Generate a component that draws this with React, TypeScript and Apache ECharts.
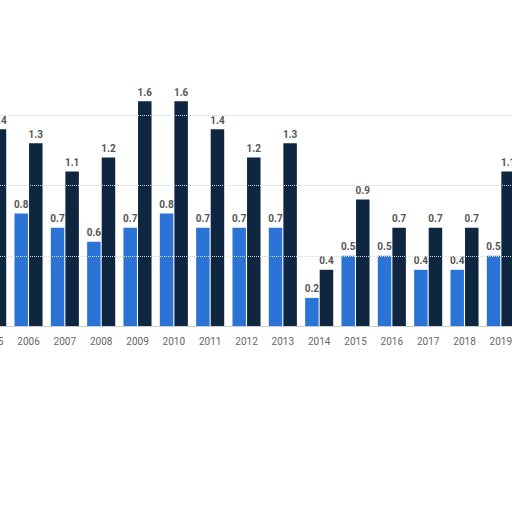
import * as echarts from 'echarts';
import React, { useEffect, useRef } from 'react';

const years = ['2005', '2006', '2007', '2008', '2009', '2010', '2011', '2012', '2013', '2014', '2015', '2016', '2017', '2018', '2019'];
const blueValues = [0.7, 0.8, 0.7, 0.6, 0.7, 0.8, 0.7, 0.7, 0.7, 0.2, 0.5, 0.5, 0.4, 0.4, 0.5];
const navyValues = [1.4, 1.3, 1.1, 1.2, 1.6, 1.6, 1.4, 1.2, 1.3, 0.4, 0.9, 0.7, 0.7, 0.7, 1.1];
const gridValues = [0.5, 1, 1.5];

const labelStyle = {
  show: true,
  position: 'top' as const,
  fontSize: 10,
  fontWeight: 'bold' as const,
  color: '#555',
  fontFamily: 'Roboto, sans-serif',
  distance: 4,
};

const App: React.FC = () => {
  const chartRef = useRef<HTMLDivElement>(null);

  useEffect(() => {
    if (!chartRef.current) return;
    const chart = echarts.init(chartRef.current, undefined, { renderer: 'svg' });
    chart.setOption({
      animation: false,
      grid: { left: 0, right: 0, top: 45, bottom: 186 },
      xAxis: {
        type: 'category',
        data: years,
        axisLine: { lineStyle: { color: '#ccc' } },
        axisTick: { show: false },
        axisLabel: { color: '#666', fontSize: 10, margin: 10, fontFamily: 'Roboto, sans-serif' },
      },
      yAxis: {
        type: 'value',
        min: 0,
        max: 2,
        interval: 0.5,
        axisLabel: { show: false },
        axisLine: { show: false },
        splitLine: { show: false },
      },
      series: [
        {
          // dotted guide lines at 0.5 / 1 / 1.5, kept below the bars
          type: 'line',
          data: [],
          z: 1,
          markLine: {
            silent: true,
            symbol: 'none',
            label: { show: false },
            lineStyle: { color: '#d6d6d6', type: 'dotted', width: 1 },
            data: gridValues.map((v) => ({ yAxis: v })),
          },
        },
        {
          type: 'bar',
          data: blueValues,
          barWidth: 13.5,
          barGap: '8%',
          z: 3,
          itemStyle: { color: '#2b74d6' },
          label: labelStyle,
        },
        {
          type: 'bar',
          data: navyValues,
          barWidth: 13.5,
          barGap: '8%',
          z: 3,
          itemStyle: { color: '#0f2641' },
          label: labelStyle,
        },
      ],
    });
    return () => chart.dispose();
  }, []);

  return (
    <div
      ref={chartRef}
      style={{ width: 545, height: 512, position: 'absolute', left: -26, top: 0 }}
    />
  );
};

export default App;
